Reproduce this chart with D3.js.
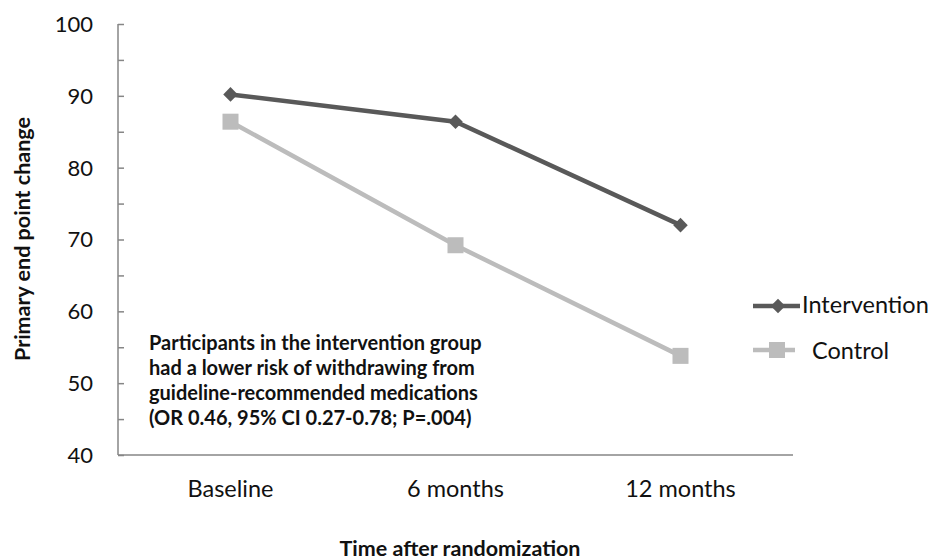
<!DOCTYPE html>
<html><head><meta charset="utf-8">
<script src="https://cdn.jsdelivr.net/npm/d3@7"></script>
<style>body{margin:0;background:#fff}svg{display:block}text{font-family:Lato,"Open Sans",sans-serif}</style>
</head><body><svg id="c" width="932" height="560"></svg>
<script>
const categories = ["Baseline", "6 months", "12 months"];
const intervention = [90.2, 86.4, 72.0];
const control = [86.4, 69.2, 53.8];
const yTicks = [40, 50, 60, 70, 80, 90, 100];
const yMinorTicks = [45, 55, 65, 75, 85, 95];
const seriesNames = ["Intervention", "Control"];
const noteLines = ["Participants in the intervention group", "had a lower risk of withdrawing from", "guideline-recommended medications", "(OR 0.46, 95% CI 0.27-0.78; P=.004)"];

const svg = d3.select("#c");
const L = 118, R = 793, T = 24, B = 455;
const x = d3.scaleBand().domain(categories).range([L, R]);
const y = d3.scaleLinear().domain([40, 100]).range([B, T]);
const axisColor = "#868686";
const colI = "#595959", colC = "#bcbcbc";
const ink = "#111";

// y axis
const yAxis = svg.append("g").attr("transform", `translate(${L},0)`)
  .call(d3.axisRight(y).tickValues(yTicks.concat(yMinorTicks)).tickSize(6).tickFormat(""));
yAxis.select(".domain").attr("stroke", axisColor).attr("stroke-width", 1.5).attr("d", `M0,${T}V${B}`);
yAxis.selectAll(".tick line").attr("stroke", axisColor).attr("stroke-width", 1.5);
svg.append("g").selectAll("text").data(yTicks).join("text")
  .attr("x", 93).attr("y", d => y(d)).attr("dy", "0.36em").attr("text-anchor", "end")
  .attr("font-size", 22).attr("fill", ink).text(d => d);

// x axis
svg.append("line").attr("x1", L).attr("x2", R).attr("y1", B).attr("y2", B)
  .attr("stroke", axisColor).attr("stroke-width", 1.5);
svg.append("g").selectAll("text").data(categories).join("text")
  .attr("x", d => x(d) + x.bandwidth() / 2).attr("y", 497).attr("text-anchor", "middle")
  .attr("font-size", 23.5).attr("fill", ink).text(d => d);

// titles
svg.append("text").attr("x", 460).attr("y", 556).attr("text-anchor", "middle")
  .attr("font-size", 21.5).attr("font-weight", "bold").attr("fill", ink).text("Time after randomization");
svg.append("text").attr("transform", "translate(30,239) rotate(-90)").attr("text-anchor", "middle")
  .attr("font-size", 21.5).attr("font-weight", "bold").attr("fill", ink).text("Primary end point change");

// lines
const cx = (d, i) => x(categories[i]) + x.bandwidth() / 2;
const line = d3.line().x(cx).y(d => y(d));
svg.append("path").datum(control).attr("d", line).attr("fill", "none").attr("stroke", colC).attr("stroke-width", 4.5);
svg.append("path").datum(intervention).attr("d", line).attr("fill", "none").attr("stroke", colI).attr("stroke-width", 4.5);
const diamond = d3.symbol().type(d3.symbolDiamond2).size(135);
svg.append("g").selectAll("rect").data(control).join("rect")
  .attr("x", (d, i) => cx(d, i) - 8).attr("y", d => y(d) - 8)
  .attr("width", 16).attr("height", 16).attr("fill", colC);
svg.append("g").selectAll("path").data(intervention).join("path")
  .attr("transform", (d, i) => `translate(${cx(d, i)},${y(d)})`)
  .attr("d", diamond).attr("fill", colI);

// legend
const lg = svg.append("g");
lg.append("line").attr("x1", 753).attr("x2", 800).attr("y1", 306).attr("y2", 306).attr("stroke", colI).attr("stroke-width", 4.5);
lg.append("path").attr("transform", "translate(778,306)").attr("d", diamond).attr("fill", colI);
lg.append("text").attr("x", 802).attr("y", 313).attr("font-size", 23.5).attr("fill", ink).text(seriesNames[0]);
lg.append("line").attr("x1", 753).attr("x2", 795).attr("y1", 350).attr("y2", 350).attr("stroke", colC).attr("stroke-width", 4.5);
lg.append("rect").attr("x", 769).attr("y", 342).attr("width", 16).attr("height", 16).attr("fill", colC);
lg.append("text").attr("x", 812).attr("y", 359).attr("font-size", 23.5).attr("fill", ink).text(seriesNames[1]);

// annotation
svg.append("g").selectAll("text").data(noteLines).join("text")
  .attr("x", 149).attr("y", (d, i) => 350 + i * 25).attr("font-size", 20).attr("font-weight", "bold")
  .attr("fill", ink).text(d => d);
</script></body></html>
